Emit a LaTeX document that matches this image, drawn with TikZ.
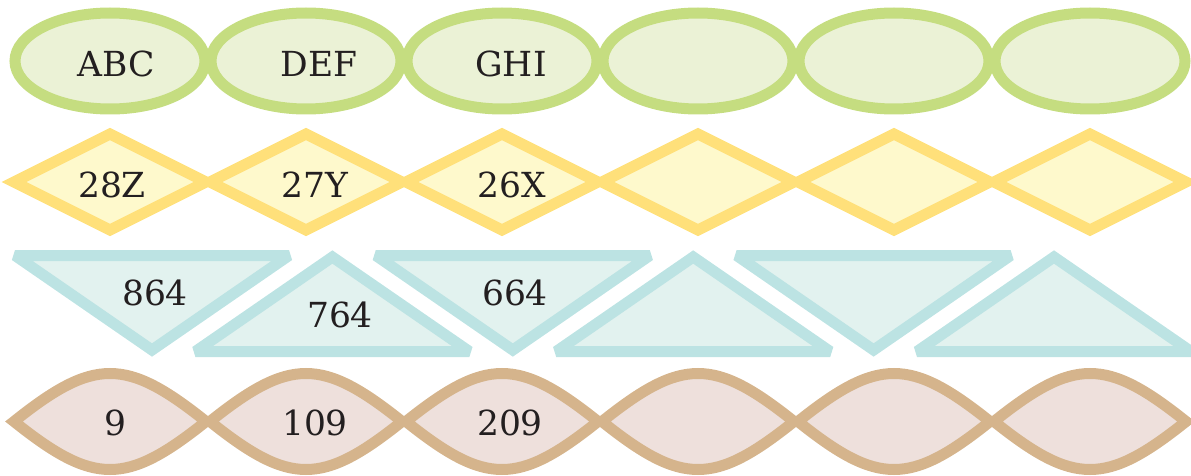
\documentclass[tikz,border=0pt]{standalone}
\usepackage{fontspec}
\setmainfont{DejaVu Serif}
\definecolor{ellline}{HTML}{C5DD80}
\definecolor{ellfill}{HTML}{EBF2D6}
\definecolor{diamline}{HTML}{FFE07A}
\definecolor{diamfill}{HTML}{FEF9CC}
\definecolor{triline}{HTML}{BCE3E3}
\definecolor{trifill}{HTML}{E2F2EF}
\definecolor{lensline}{HTML}{D5B48C}
\definecolor{lensfill}{HTML}{EEE0DC}
\definecolor{ink}{HTML}{231F20}
\begin{document}
\begin{tikzpicture}[x=1pt,y=-1pt,
  ellshape/.style={draw=ellline,fill=ellfill,line width=11pt},
  diamshape/.style={draw=diamline,fill=diamfill,line width=11pt,line join=miter},
  trishape/.style={draw=triline,fill=trifill,line width=11pt,line join=miter,miter limit=2.5},
  lensshape/.style={draw=lensline,fill=lensfill,line width=11pt,line join=miter},
  lbl/.style={text=ink,font=\fontsize{34.5}{40}\selectfont,inner sep=0pt,anchor=base}]
\useasboundingbox (0,0) rectangle (1191,476);
% row 1: ellipses
\foreach \i in {0,...,5}{
  \pgfmathsetmacro\cx{110+196*\i}
  \path[ellshape] (\cx,61) ellipse [x radius=95, y radius=48];
}
% row 2: diamonds
\foreach \i in {0,...,5}{
  \pgfmathsetmacro\cx{110+196*\i}
  \path[diamshape] (\cx-96,182) -- (\cx,134) -- (\cx+96,182) -- (\cx,230) -- cycle;
}
% row 3: triangles
\foreach \i in {0,2,4}{
  \pgfmathsetmacro\tx{152+180.4*\i}
  \path[trishape] (\tx-137,255.5) -- (\tx+137,255.5) -- (\tx,350) -- cycle;
}
\foreach \i in {1,3,5}{
  \pgfmathsetmacro\tx{152+180.4*\i}
  \path[trishape] (\tx,257) -- (\tx+137,351.5) -- (\tx-137,351.5) -- cycle;
}
% row 4: lenses (fills first, then outlines)
\foreach \i in {0,...,5}{
  \pgfmathsetmacro\cx{110+196*\i}
  \fill[lensfill] (\cx-96,421.5) .. controls (\cx-16,357.5) and (\cx+16,357.5) .. (\cx+96,421.5)
     .. controls (\cx+16,485.5) and (\cx-16,485.5) .. (\cx-96,421.5) -- cycle;
}
\foreach \i in {0,...,5}{
  \pgfmathsetmacro\cx{110+196*\i}
  \draw[lensline,line width=11pt,line join=miter] (\cx-96,421.5) .. controls (\cx-16,357.5) and (\cx+16,357.5) .. (\cx+96,421.5)
     .. controls (\cx+16,485.5) and (\cx-16,485.5) .. (\cx-96,421.5) -- cycle;
}
% labels
\node[lbl] (t1) at (116,77) {ABC};
\node[lbl] (t2) at (319,77) {DEF};
\node[lbl] (t3) at (511,77) {GHI};
\node[lbl] (t4) at (112,197) {28Z};
\node[lbl] (t5) at (315,197) {27Y};
\node[lbl] (t6) at (512,197) {26X};
\node[lbl] (t7) at (155,305) {864};
\node[lbl] (t8) at (340,327) {764};
\node[lbl] (t9) at (515,305) {664};
\node[lbl] (t10) at (115,435) {9};
\node[lbl] (t11) at (315,435) {109};
\node[lbl] (t12) at (510,435) {209};
\end{tikzpicture}
\end{document}
